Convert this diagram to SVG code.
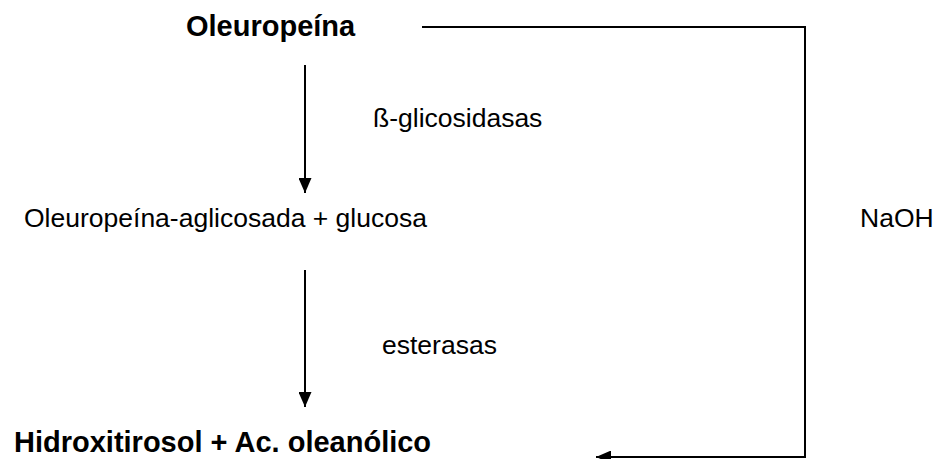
<svg xmlns="http://www.w3.org/2000/svg" width="936" height="459" viewBox="0 0 936 459">
<defs>
<style>
text{font-family:"Liberation Sans",Arial,sans-serif;fill:#000}
.b{font-weight:bold;font-size:29px}
.r{font-size:26.5px}
.ln{stroke:#000;stroke-width:2;fill:none}
</style>
<marker id="ah" viewBox="0 0 15 13" refX="15" refY="6.5" markerWidth="15" markerHeight="13" markerUnits="userSpaceOnUse" orient="auto">
<path d="M0,0 L15,6.5 L0,13 Z" fill="#000"/>
</marker>
</defs>
<rect width="936" height="459" fill="#fff"/>
<g id="n1"><text class="b" x="186" y="36">Oleuropeína</text></g>
<g id="n2"><text class="r" x="24" y="227">Oleuropeína-aglicosada + glucosa</text></g>
<g id="n3"><text class="b" x="14" y="452">Hidroxitirosol + Ac. oleanólico</text></g>
<g id="labels">
<text class="r" x="373" y="127">ß-glicosidasas</text>
<text class="r" x="382" y="354">esterasas</text>
<text class="r" x="860" y="227">NaOH</text>
</g>
<g id="connectors">
<line class="ln" x1="305" y1="65" x2="305" y2="193" marker-end="url(#ah)"/>
<line class="ln" x1="305" y1="270" x2="305" y2="407" marker-end="url(#ah)"/>
<polyline class="ln" points="422,27 805,27 805,457 596,457" marker-end="url(#ah)"/>
</g>
</svg>
